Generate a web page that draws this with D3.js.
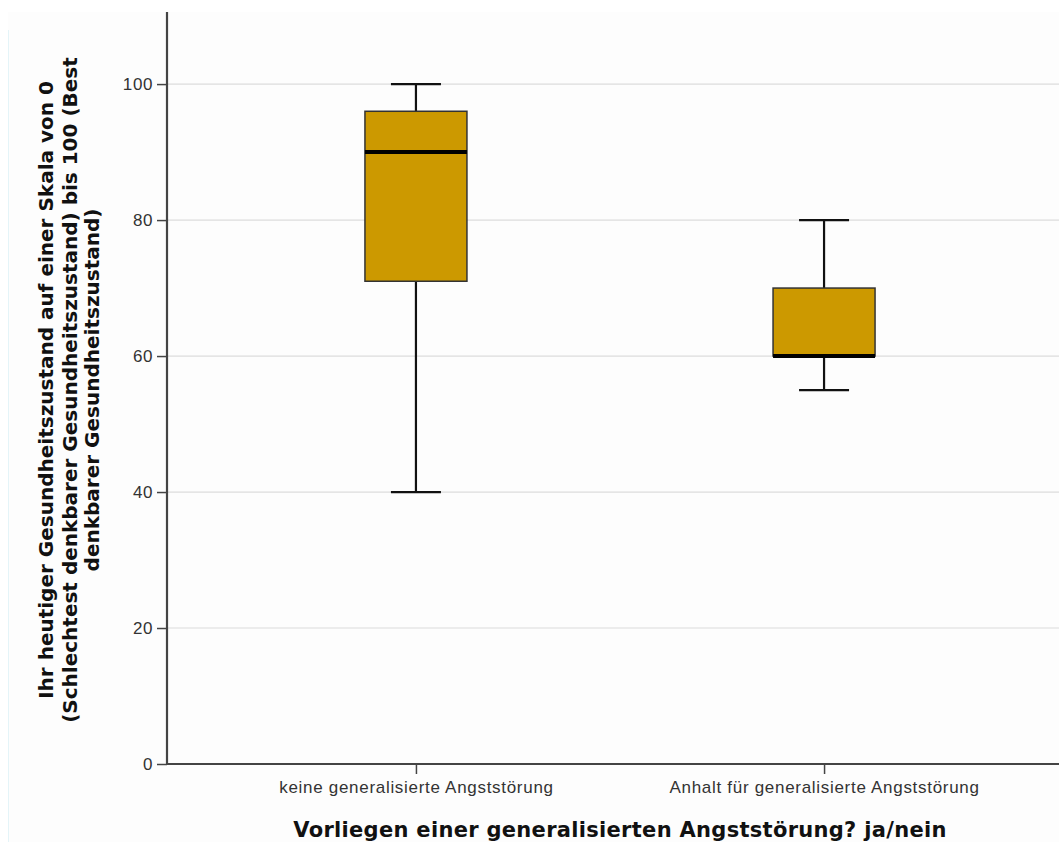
<!DOCTYPE html>
<html>
<head>
<meta charset="utf-8">
<script src="https://cdn.jsdelivr.net/npm/d3@7"></script>
<style>
  html, body { margin: 0; padding: 0; background: #ffffff; }
  svg { display: block; }
</style>
</head>
<body>
<svg id="chart" width="1059" height="842"></svg>
<script>
// ---- Data ----
const categories = ["keine generalisierte Angststörung", "Anhalt für generalisierte Angststörung"];
const whiskerLow  = [40, 55];
const q1          = [71, 60];
const median      = [90, 60];
const q3          = [96, 70];
const whiskerHigh = [100, 80];
const yTicks = [0, 20, 40, 60, 80, 100];
const yTitleLines = [
  "Ihr heutiger Gesundheitszustand auf einer Skala von 0",
  "(Schlechtest denkbarer Gesundheitszustand) bis 100 (Best",
  "denkbarer Gesundheitszustand)"
];
const xTitle = "Vorliegen einer generalisierten Angststörung? ja/nein";

// ---- Layout ----
const svg = d3.select("#chart");
const plotLeft = 167, plotBottom = 764, plotTop = 12, plotRightEnd = 1073;

svg.append("rect").attr("x", 8).attr("y", 12).attr("width", 1051).attr("height", 830)
  .attr("fill", "#fdfdfd");
svg.append("line").attr("x1", 8.5).attr("x2", 8.5).attr("y1", 30).attr("y2", 842)
  .attr("stroke", "#e4f4f8").attr("stroke-width", 1);

const y = d3.scaleLinear().domain([0, 110.6]).range([plotBottom, plotTop]);
const x = d3.scalePoint().domain(categories).range([plotLeft, plotRightEnd]).padding(0.61);

// gridlines
svg.append("g").selectAll("line").data(yTicks.filter(d => d > 0)).join("line")
  .attr("x1", plotLeft).attr("x2", 1059)
  .attr("y1", d => y(d)).attr("y2", d => y(d))
  .attr("stroke", "#dcdcdc").attr("stroke-width", 1.2);

// boxes
const data = categories.map((c, i) => ({
  c, lo: whiskerLow[i], q1: q1[i], med: median[i], q3: q3[i], hi: whiskerHigh[i]
}));
const boxW = 102, capW = 50;
const g = svg.append("g");
data.forEach(d => {
  const cx = x(d.c);
  g.append("line").attr("x1", cx).attr("x2", cx).attr("y1", y(d.hi)).attr("y2", y(d.q3))
    .attr("stroke", "#111").attr("stroke-width", 2.2);
  g.append("line").attr("x1", cx).attr("x2", cx).attr("y1", y(d.q1)).attr("y2", y(d.lo))
    .attr("stroke", "#111").attr("stroke-width", 2.2);
  g.append("line").attr("x1", cx - capW/2).attr("x2", cx + capW/2).attr("y1", y(d.hi)).attr("y2", y(d.hi))
    .attr("stroke", "#111").attr("stroke-width", 2.2);
  g.append("line").attr("x1", cx - capW/2).attr("x2", cx + capW/2).attr("y1", y(d.lo)).attr("y2", y(d.lo))
    .attr("stroke", "#111").attr("stroke-width", 2.2);
  g.append("rect").attr("x", cx - boxW/2).attr("y", y(d.q3))
    .attr("width", boxW).attr("height", y(d.q1) - y(d.q3))
    .attr("fill", "#cc9900").attr("stroke", "#333").attr("stroke-width", 1.5);
  g.append("line").attr("x1", cx - boxW/2).attr("x2", cx + boxW/2)
    .attr("y1", y(d.med)).attr("y2", y(d.med))
    .attr("stroke", "#000").attr("stroke-width", 4);
});

// y axis
const yAxis = svg.append("g").attr("transform", `translate(${plotLeft},0)`)
  .call(d3.axisLeft(y).tickValues(yTicks).tickSize(10).tickPadding(4).tickFormat(d3.format("d")));
yAxis.select(".domain").remove();
yAxis.selectAll(".tick line").attr("stroke", "#444").attr("stroke-width", 1.5);
yAxis.selectAll(".tick text").attr("font-family", "Liberation Sans, Arial, sans-serif")
  .attr("font-size", 17).attr("letter-spacing", 0.6).attr("fill", "#333");
svg.append("line").attr("x1", plotLeft).attr("x2", plotLeft).attr("y1", plotTop).attr("y2", plotBottom + 1)
  .attr("stroke", "#444").attr("stroke-width", 2.2);

// x axis
const xAxis = svg.append("g").attr("transform", `translate(0,${plotBottom})`)
  .call(d3.axisBottom(x).tickSize(10).tickPadding(7));
xAxis.select(".domain").remove();
xAxis.selectAll(".tick line").attr("stroke", "#444").attr("stroke-width", 1.5);
xAxis.selectAll(".tick text").attr("font-family", "Liberation Sans, Arial, sans-serif")
  .attr("font-size", 17).attr("letter-spacing", 0.7).attr("fill", "#333");
svg.append("line").attr("x1", plotLeft - 1).attr("x2", 1059).attr("y1", plotBottom).attr("y2", plotBottom)
  .attr("stroke", "#444").attr("stroke-width", 2.2);

// axis titles
svg.append("text").attr("x", 620).attr("y", 837).attr("text-anchor", "middle")
  .attr("font-family", "DejaVu Sans, sans-serif").attr("font-weight", "bold")
  .attr("font-size", 21).attr("letter-spacing", 0.3).attr("fill", "#111").text(xTitle);

const yt = svg.append("text").attr("transform", `translate(0,390) rotate(-90)`)
  .attr("text-anchor", "middle")
  .attr("font-family", "DejaVu Sans, sans-serif").attr("font-weight", "bold")
  .attr("font-size", 20).attr("fill", "#111");
const baselines = [53, 77, 99];
yTitleLines.forEach((t, i) => {
  yt.append("tspan").attr("x", 0).attr("y", baselines[i]).text(t);
});
</script>
</body>
</html>
